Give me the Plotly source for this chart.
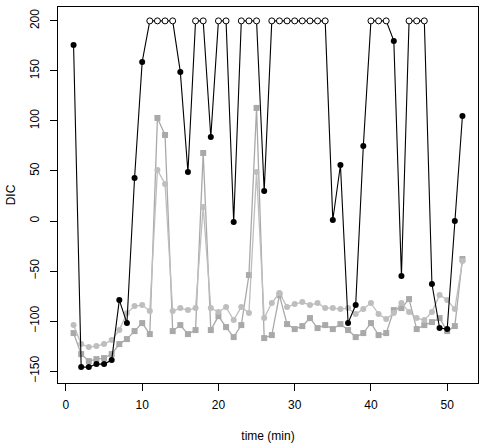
import plotly.graph_objects as go

time_min = list(range(1, 53))

dic_main = [176, -146, -146, -143, -143, -139, -79, -102, 43, 159,
            200, 200, 200, 200, 149, 49, 200, 200, 84, 200,
            200, -1, 200, 200, 200, 30, 200, 200, 200, 200,
            200, 200, 200, 200, 1, 56, -102, -84, 75, 200,
            200, 200, 180, -55, 200, 200, 200, -63, -107, -108,
            0, 105]

dic_circles = [-104, -123, -126, -125, -123, -119, -109, -92, -85, -84,
               -90, 51, 37, -90, -87, -89, -87, 14, -87, -91,
               -86, -99, -86, -92, 49, -97, -82, -72, -86, -83,
               -81, -84, -82, -87, -87, -88, -87, -93, -88, -82,
               -93, -98, -92, -82, -91, -97, -99, -91, -74, -79,
               -88, -40]

dic_squares = [-112, -133, -140, -138, -137, -133, -123, -118, -110, -102,
               -113, 103, 86, -110, -104, -113, -109, 68, -109, -95,
               -106, -116, -104, -54, 113, -117, -114, -74, -103, -108,
               -105, -97, -107, -104, -108, -103, -109, -116, -112, -102,
               -114, -112, -89, -87, -78, -108, -104, -101, -97, -110,
               -105, -38]

CAP = 200

fig = go.Figure()

fig.add_trace(go.Scatter(
    x=time_min, y=dic_squares, mode="lines+markers",
    line=dict(color="#A9A9A9", width=1.3),
    marker=dict(symbol="square", size=6, color="#A9A9A9"),
    showlegend=False))

fig.add_trace(go.Scatter(
    x=time_min, y=dic_circles, mode="lines+markers",
    line=dict(color="#BEBEBE", width=1.3),
    marker=dict(symbol="circle", size=6, color="#BEBEBE"),
    showlegend=False))

fig.add_trace(go.Scatter(
    x=time_min, y=dic_main, mode="lines",
    line=dict(color="black", width=1.1),
    showlegend=False))

closed_x = [t for t, v in zip(time_min, dic_main) if v < CAP]
closed_y = [v for v in dic_main if v < CAP]
open_x = [t for t, v in zip(time_min, dic_main) if v >= CAP]
open_y = [v for v in dic_main if v >= CAP]

fig.add_trace(go.Scatter(
    x=closed_x, y=closed_y, mode="markers",
    marker=dict(symbol="circle", size=6, color="black"),
    showlegend=False))

fig.add_trace(go.Scatter(
    x=open_x, y=open_y, mode="markers",
    marker=dict(symbol="circle", size=6, color="white",
                line=dict(color="black", width=1)),
    showlegend=False))

font = dict(family="Liberation Sans, Arial, sans-serif", size=12, color="black")

fig.update_layout(
    width=484, height=444,
    margin=dict(l=58, r=6, t=7, b=61),
    paper_bgcolor="white", plot_bgcolor="white",
    font=font,
    xaxis=dict(
        range=[-1.04, 54.04], tickvals=[0, 10, 20, 30, 40, 50],
        showgrid=False, zeroline=False,
        showline=True, mirror=True, linecolor="black", linewidth=1,
        ticks="outside", ticklen=7, tickcolor="black",
        ticklabelstandoff=4,
        title=dict(text="time (min)", standoff=20, font=font),
        automargin=False),
    yaxis=dict(
        range=[-161.88, 213.88], tickvals=[-150, -100, -50, 0, 50, 100, 150, 200],
        showgrid=False, zeroline=False,
        showline=True, mirror=True, linecolor="black", linewidth=1,
        ticks="outside", ticklen=7, tickcolor="black", tickangle=-90,
        ticklabelstandoff=6,
        title=dict(text="DIC", standoff=10, font=font),
        automargin=False),
)

fig.write_html("out.html")
